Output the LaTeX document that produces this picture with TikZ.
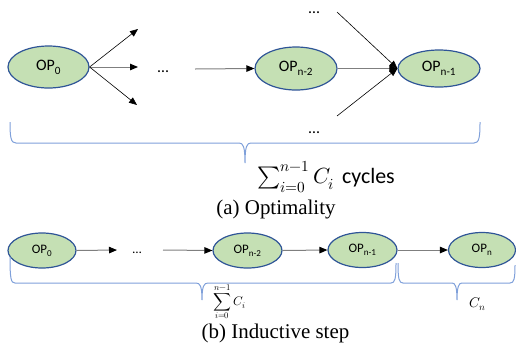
\documentclass[tikz,border=0pt]{standalone}
\usepackage{fontspec}
\usepackage{unicode-math}
\setmainfont{Carlito}
\newfontfamily\capfont{Liberation Serif}
\usetikzlibrary{arrows.meta,shapes.geometric}
\definecolor{nodefill}{HTML}{C5E0B4}
\definecolor{nodeline}{HTML}{2F5597}
\definecolor{bracecol}{HTML}{7FA0DA}
\definecolor{linegray}{HTML}{7F7F7F}
\tikzset{
  opnode/.style={ellipse, draw=nodeline, fill=nodefill, line width=1.2bp, inner sep=0pt},
  bigop/.style={opnode, font=\fontsize{16}{16}\selectfont},
  smallop/.style={opnode, font=\fontsize{13}{13}\selectfont},
  conn/.style={draw=black, line width=0.6bp, -{Triangle[length=8bp,width=6.5bp]}},
  gconn/.style={draw=linegray, line width=1bp, -{Triangle[length=8bp,width=6.5bp,color=black]}},
  bracepath/.style={draw=bracecol, line width=1bp},
  bigdots/.style={font=\fontsize{16}{16}\selectfont, inner sep=0pt, anchor=base},
  smalldots/.style={font=\fontsize{13}{13}\selectfont, inner sep=0pt, anchor=base},
  captext/.style={font=\capfont\fontsize{21}{21}\selectfont, inner sep=0pt},
}
\begin{document}
\begin{tikzpicture}[x=1bp,y=-1bp]
\useasboundingbox (0,0) rectangle (516,348);
% ---------- (a) Optimality ----------
\node[bigop, minimum width=81bp, minimum height=42bp] (op0) at (48.5,67) {OP\textsubscript{0}};
\node[bigop, minimum width=82bp, minimum height=43bp] (opn2) at (296,68.5) {OP\textsubscript{n-2}};
\node[bigop, minimum width=82bp, minimum height=37bp] (opn1) at (439,68.5) {OP\textsubscript{n-1}};
\coordinate (f1) at (138,29);
\coordinate (f2) at (138,67);
\coordinate (f3) at (137,105);
\draw[conn] (op0.east) -- (f1);
\draw[gconn] (op0.east) -- (f2);
\draw[conn] (op0.east) -- (f3);
\node[bigdots] (d1) at (163,72.5) {…};
\coordinate (a1) at (195,69);
\draw[gconn] (a1) -- (opn2.west);
\draw[gconn] (opn2.east) -- (opn1.west);
\node[bigdots] (dtop) at (314,13.5) {…};
\node[bigdots] (dbot) at (314,133.5) {…};
\coordinate (c1) at (337,12);
\coordinate (c2) at (337,116);
\draw[conn] (c1) -- (opn1.west);
\draw[conn] (c2) -- (opn1.west);
\draw[bracepath] (10,122) .. controls (10,138) and (11,143) .. (16,143) -- (239,143)
  .. controls (243,143) and (245,146) .. (245,163)
  .. controls (245,146) and (247,143) .. (251,143) -- (474,143)
  .. controls (479,143) and (480,138) .. (480,122);
\node[font=\fontsize{22}{22}\selectfont, inner sep=0pt, anchor=west] (suma) at (257,177) {$\sum_{i=0}^{n-1} C_i$\,\,cycles};
\node[captext] (capa) at (276,209) {(a) Optimality};
% ---------- (b) Inductive step ----------
\node[smallop, minimum width=68bp, minimum height=35bp] (b0) at (42,250.5) {OP\textsubscript{0}};
\node[smallop, minimum width=69bp, minimum height=35bp] (bn2) at (247.5,250.5) {OP\textsubscript{n-2}};
\node[smallop, minimum width=69bp, minimum height=35bp] (bn1) at (362.5,250) {OP\textsubscript{n-1}};
\node[smallop, minimum width=67bp, minimum height=35bp] (bn) at (482,250) {OP\textsubscript{n}};
\coordinate (e1) at (117,250);
\coordinate (s1) at (163,250);
\draw[gconn] (b0.east) -- (e1);
\node[smalldots] (bd) at (137,253.5) {…};
\draw[gconn] (s1) -- (bn2.west);
\draw[gconn] (bn2.east) -- (bn1.west);
\draw[gconn] (bn1.east) -- (bn.west);
\draw[bracepath] (10,257) .. controls (10,279) and (11,283) .. (15,283) -- (196,283)
  .. controls (200,283) and (202,286) .. (202,300)
  .. controls (202,286) and (204,283) .. (208,283) -- (391,283)
  .. controls (395,283) and (396,279) .. (396,263);
\draw[bracepath] (398,263) .. controls (398,279) and (399,283) .. (403,283) -- (452,283)
  .. controls (455,283) and (457,286) .. (457,300)
  .. controls (457,286) and (459,283) .. (462,283) -- (510,283)
  .. controls (514,283) and (515,279) .. (515,265);
\node[font=\fontsize{12.5}{12.5}\selectfont, inner sep=0pt, anchor=west] (sumb) at (213,302) {$\displaystyle\sum_{i=0}^{n-1} C_i$};
\node[font=\fontsize{14}{14}\selectfont, inner sep=0pt] (cn) at (478,304) {$C_n$};
\node[captext] (capb) at (275.5,333.5) {(b) Inductive step};
\end{tikzpicture}
\end{document}
